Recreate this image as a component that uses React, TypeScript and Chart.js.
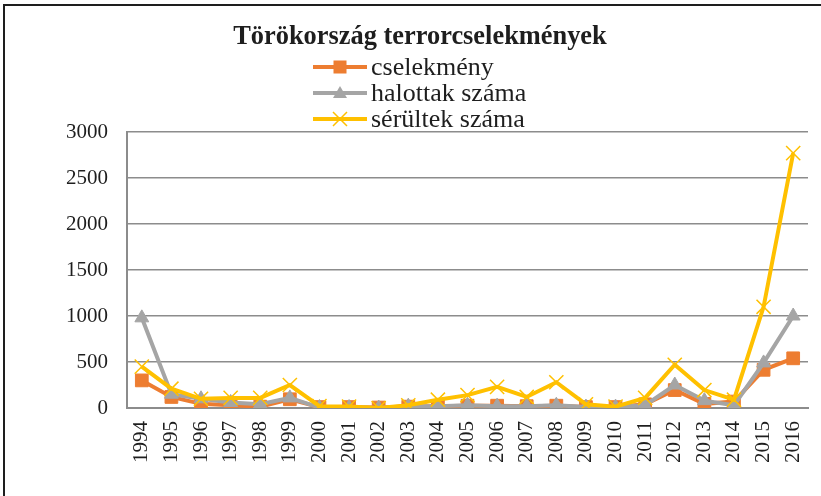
import React, { useEffect, useRef } from "react";
import { Chart, registerables } from "chart.js";

Chart.register(...registerables);

const TITLE = "Törökország terrorcselekmények";
const YEARS = ["1994","1995","1996","1997","1998","1999","2000","2001","2002","2003","2004","2005","2006","2007","2008","2009","2010","2011","2012","2013","2014","2015","2016"];
const SERIES_NAMES = ["cselekmény", "halottak száma", "sérültek száma"];
const CSELEKMENY = [300, 120, 45, 30, 15, 95, 10, 10, 5, 15, 20, 25, 25, 20, 25, 10, 10, 40, 195, 45, 70, 415, 540];
const HALOTTAK = [980, 150, 100, 60, 40, 110, 5, 5, 0, 20, 20, 30, 20, 20, 30, 10, 10, 30, 250, 80, 30, 490, 1000];
const SERULTEK = [450, 210, 100, 110, 110, 250, 20, 15, 0, 30, 90, 140, 230, 120, 280, 40, 15, 110, 470, 195, 90, 1100, 2770];
const Y_MIN = 0;
const Y_MAX = 3000;
const Y_STEP = 500;

const COLORS = ["#ED7D31", "#A5A5A5", "#FFC000"];
const STYLES = ["rect", "triangle", "crossRot"];
const SERIF = "'Liberation Serif', 'DejaVu Serif', serif";

function drawMarker(ctx: CanvasRenderingContext2D, style: string, x: number, y: number, color: string) {
  ctx.save();
  ctx.fillStyle = color;
  ctx.strokeStyle = color;
  if (style === "rect") {
    ctx.fillRect(x - 6.5, y - 6.5, 13, 13);
  } else if (style === "triangle") {
    ctx.beginPath();
    ctx.moveTo(x, y - 7);
    ctx.lineTo(x + 7, y + 5);
    ctx.lineTo(x - 7, y + 5);
    ctx.closePath();
    ctx.fill();
  } else {
    ctx.lineWidth = 1.5;
    ctx.beginPath();
    ctx.moveTo(x - 7, y - 7);
    ctx.lineTo(x + 7, y + 7);
    ctx.moveTo(x + 7, y - 7);
    ctx.lineTo(x - 7, y + 7);
    ctx.stroke();
  }
  ctx.restore();
}

const decorPlugin = {
  id: "decor",
  beforeDraw(chart: any) {
    const ctx = chart.ctx as CanvasRenderingContext2D;
    ctx.save();
    ctx.fillStyle = "#1e1e1e";
    ctx.fillRect(3, 4, 2, 492);
    ctx.fillRect(3, 4, 818, 2);
    ctx.restore();
  },
  afterDraw(chart: any) {
    const ctx = chart.ctx as CanvasRenderingContext2D;
    ctx.save();
    ctx.fillStyle = "#1e1e1e";
    ctx.font = `bold 26.4px ${SERIF}`;
    ctx.textAlign = "center";
    ctx.textBaseline = "middle";
    ctx.fillText(TITLE, 420, 37);
    const rows = [67, 93, 119];
    ctx.font = `26px ${SERIF}`;
    ctx.textAlign = "left";
    chart.data.datasets.forEach((ds: any, i: number) => {
      const y = rows[i];
      ctx.strokeStyle = COLORS[i];
      ctx.lineWidth = 4;
      ctx.beginPath();
      ctx.moveTo(313, y);
      ctx.lineTo(367, y);
      ctx.stroke();
      drawMarker(ctx, STYLES[i], 340, y, COLORS[i]);
      ctx.fillStyle = "#1e1e1e";
      ctx.fillText(ds.label, 371, y + 1);
    });
    ctx.restore();
  },
};

export default function App() {
  const ref = useRef<HTMLCanvasElement | null>(null);
  useEffect(() => {
    if (!ref.current) return;
    const values = [CSELEKMENY, HALOTTAK, SERULTEK];
    const radii = [9, 8, 10];
    const chart = new Chart(ref.current, {
      type: "line",
      data: {
        labels: YEARS,
        datasets: SERIES_NAMES.map((name, i) => ({
          label: name,
          data: values[i],
          borderColor: COLORS[i],
          backgroundColor: COLORS[i],
          borderWidth: 4,
          tension: 0,
          pointStyle: STYLES[i] as any,
          pointRadius: radii[i],
          pointBackgroundColor: COLORS[i],
          pointBorderColor: COLORS[i],
          pointBorderWidth: i === 2 ? 1.5 : 1,
          order: 3 - i,
        })),
      },
      options: {
        responsive: false,
        animation: false,
        layout: { padding: { top: 132, right: 13, left: 0, bottom: 0 } },
        plugins: {
          legend: { display: false },
          title: { display: false },
          tooltip: { enabled: false },
        },
        scales: {
          x: {
            offset: true,
            grid: { drawOnChartArea: false, drawTicks: false },
            border: { display: true, color: "#8c8c8c", width: 2 },
            ticks: {
              minRotation: 90,
              maxRotation: 90,
              autoSkip: false,
              padding: 13,
              color: "#1e1e1e",
              font: { family: SERIF, size: 21 },
            },
            afterFit: (s: any) => {
              s.height = 88;
              s.paddingLeft = 0;
              s.paddingRight = 0;
            },
          },
          y: {
            min: Y_MIN,
            max: Y_MAX,
            grid: { color: "#8c8c8c", lineWidth: 1.5, drawTicks: false },
            border: { display: true, color: "#8c8c8c", width: 2 },
            ticks: {
              stepSize: Y_STEP,
              padding: 19,
              color: "#1e1e1e",
              font: { family: SERIF, size: 21 },
              callback: (v: any) => String(v),
            },
            afterFit: (s: any) => {
              s.width = 127;
              s.paddingTop = 0;
              s.paddingBottom = 0;
            },
          },
        },
      },
      plugins: [decorPlugin],
    });
    return () => chart.destroy();
  }, []);
  return (
    <div style={{ position: "absolute", left: 0, top: 0, width: 821, height: 496, background: "#fff" }}>
      <canvas ref={ref} width={821} height={496} style={{ width: 821, height: 496, display: "block" }} />
    </div>
  );
}
